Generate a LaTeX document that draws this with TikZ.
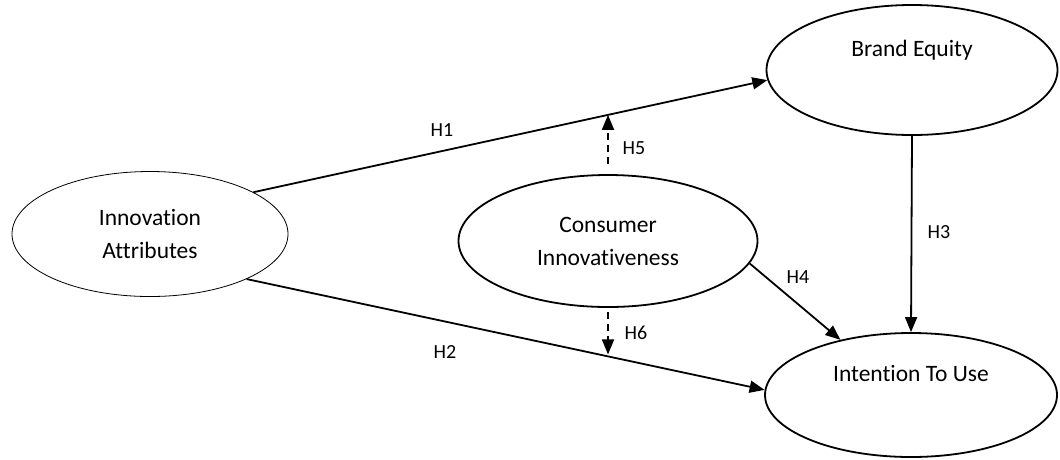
\documentclass[tikz,border=0pt]{standalone}
\usepackage{fontspec}
\setmainfont{Carlito}[Ligatures=NoCommon]
\usepackage{tikz}
\usetikzlibrary{
    calc,
    shapes.geometric,
    arrows.meta
}

\begin{document}
\begin{tikzpicture}[x=1pt, y=-1pt,
  construct/.style={draw, ellipse, line width=1.8pt, align=center, inner sep=0pt,
    font=\fontsize{23.5}{33}\selectfont},
  toptext/.style={text depth=44pt},
  link/.style={line width=1.8pt, -{Triangle[length=15pt, width=12pt]}},
  moderate/.style={link, dash pattern=on 7pt off 5pt},
  hyp/.style={font=\fontsize{20}{24}\selectfont}]
  \useasboundingbox (0,0) rectangle (1060,459);

  \node[construct, line width=0.8pt, minimum width=276pt, minimum height=125pt]
    (IA) at (150,234) {Innovation\\Attributes};
  \node[construct, toptext, minimum width=291pt, minimum height=130pt]
    (BE) at (912,70) {Brand Equity};
  \node[construct, minimum width=299pt, minimum height=132pt]
    (CI) at (608,241) {Consumer\\Innovativeness};
  \node[construct, toptext, minimum width=292pt, minimum height=124pt]
    (ITU) at (911,395) {Intention To Use};

  \draw[link] (IA.22) -- (BE.184);
  \draw[link] (IA.-25) -- (ITU.178);
  \draw[link] (BE.south) -- (ITU.north);
  \draw[link] (CI.-9) -- (ITU.142);

  % points on H1 and H2 where the moderators meet them
  \coordinate (M1) at ($(IA.22)!0.69!(BE.184)$);
  \coordinate (M2) at ($(IA.-25)!0.68!(ITU.178)$);
  \draw[moderate] ([yshift=10pt]CI.north) -- (CI.north |- M1);
  \draw[moderate] ([yshift=-4pt]CI.south) -- (CI.south |- M2);

  \node[hyp] (h1) at (442,130) {H1};
  \node[hyp] (h2) at (445,352) {H2};
  \node[hyp] (h3) at (939,232) {H3};
  \node[hyp] (h4) at (798,277) {H4};
  \node[hyp] (h5) at (634,148) {H5};
  \node[hyp] (h6) at (636,333) {H6};
\end{tikzpicture}
\end{document}
